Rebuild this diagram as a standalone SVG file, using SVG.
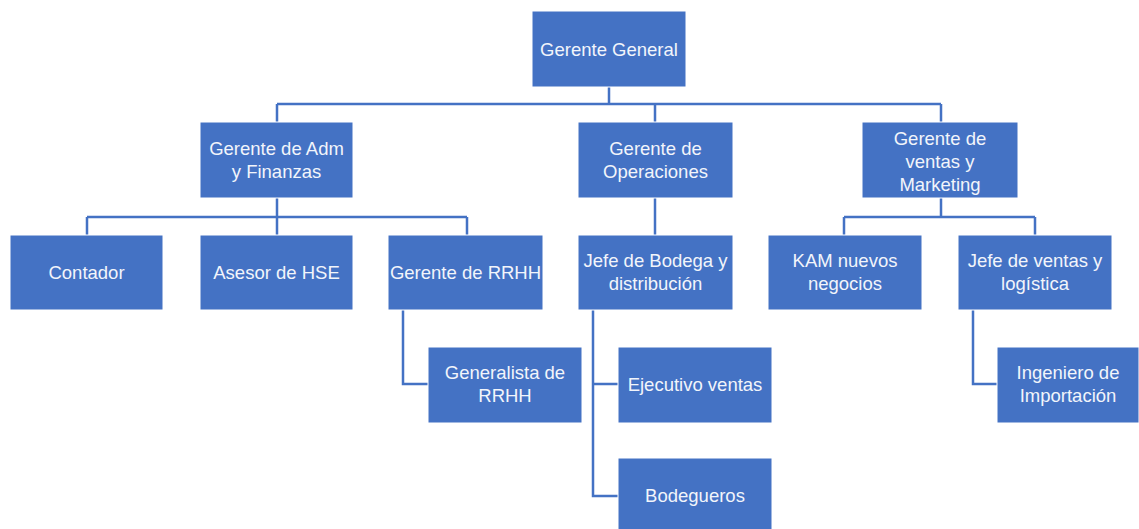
<svg xmlns="http://www.w3.org/2000/svg" width="1139" height="529" viewBox="0 0 1139 529">
<style>
.box{fill:#4472C4;stroke:#ffffff;stroke-width:1}
.t{font-family:"Liberation Sans",Arial,sans-serif;font-size:18.5px;fill:#f2f5fb;text-anchor:middle}
.c{fill:none;stroke:#4472C4;stroke-width:2.5}
</style>
<rect width="1139" height="529" fill="#ffffff"/>
<g id="connectors">
<path class="c" d="M609,87V104M277,104H941M277,104V122M655,104V122M941,104V122"/>
<path class="c" d="M277,198V217M87,217H467M87,217V235M277,217V235M467,217V235"/>
<path class="c" d="M655,198V235"/>
<path class="c" d="M941,198V217M844,217H1035M844,217V235M1035,217V235"/>
<path class="c" d="M403,310V384H428"/>
<path class="c" d="M593,310V496H618M593,384H618"/>
<path class="c" d="M973,310V384H997"/>
</g>
<g id="n-gg"><rect class="box" x="532" y="11" width="154" height="76"/><text class="t" x="609" y="55.5">Gerente General</text></g>
<g id="n-adm"><rect class="box" x="200" y="122" width="153" height="76"/><text class="t" x="276.5" y="155">Gerente de Adm</text><text class="t" x="276.5" y="178">y Finanzas</text></g>
<g id="n-ops"><rect class="box" x="578" y="122" width="155" height="76"/><text class="t" x="655.5" y="155">Gerente de</text><text class="t" x="655.5" y="178">Operaciones</text></g>
<g id="n-vtas"><rect class="box" x="862" y="122" width="156" height="76"/><text class="t" x="940" y="145">Gerente de</text><text class="t" x="940" y="168">ventas y</text><text class="t" x="940" y="191">Marketing</text></g>
<g id="n-contador"><rect class="box" x="10" y="235" width="153" height="75"/><text class="t" x="86.5" y="279">Contador</text></g>
<g id="n-hse"><rect class="box" x="200" y="235" width="153" height="75"/><text class="t" x="276.5" y="279">Asesor de HSE</text></g>
<g id="n-rrhh"><rect class="box" x="388" y="235" width="155" height="75"/><text class="t" x="465.5" y="279">Gerente de RRHH</text></g>
<g id="n-bodega"><rect class="box" x="578" y="235" width="155" height="75"/><text class="t" x="655.5" y="267">Jefe de Bodega y</text><text class="t" x="655.5" y="290">distribución</text></g>
<g id="n-kam"><rect class="box" x="768" y="235" width="154" height="75"/><text class="t" x="845" y="267">KAM nuevos</text><text class="t" x="845" y="290">negocios</text></g>
<g id="n-jvl"><rect class="box" x="958" y="235" width="154" height="75"/><text class="t" x="1035" y="267">Jefe de ventas y</text><text class="t" x="1035" y="290">logística</text></g>
<g id="n-generalista"><rect class="box" x="428" y="347" width="154" height="76"/><text class="t" x="505" y="379">Generalista de</text><text class="t" x="505" y="402">RRHH</text></g>
<g id="n-ejecutivo"><rect class="box" x="618" y="347" width="154" height="76"/><text class="t" x="695" y="391">Ejecutivo ventas</text></g>
<g id="n-bodegueros"><rect class="box" x="618" y="458" width="154" height="76"/><text class="t" x="695" y="502">Bodegueros</text></g>
<g id="n-ingeniero"><rect class="box" x="997" y="347" width="142" height="76"/><text class="t" x="1068" y="379">Ingeniero de</text><text class="t" x="1068" y="402">Importación</text></g>
</svg>
